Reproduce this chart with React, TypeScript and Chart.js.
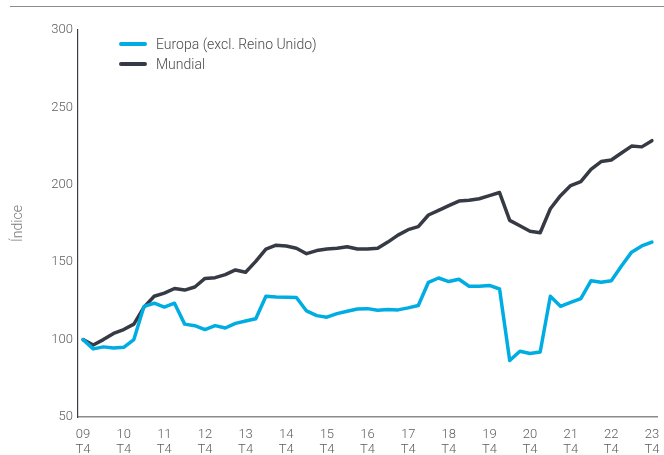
import React, { useEffect, useRef } from "react";
import { Chart, registerables } from "chart.js";

Chart.register(...registerables);

const years = ["09", "10", "11", "12", "13", "14", "15", "16", "17", "18", "19", "20", "21", "22", "23"];
const quarterNames = ["T1", "T2", "T3", "T4"];

// Quarterly categories from 09 T4 to 23 T4
const categories: string[] = ["09 T4"];
for (let y = 1; y < years.length; y++) {
  for (const q of quarterNames) categories.push(`${years[y]} ${q}`);
}

const europa = [
  100, 94, 95.3, 94.6, 95, 100, 121.5, 123.5, 121, 123.5,
  110, 109, 106.5, 109, 107.5, 110.5, 112, 113.5, 128, 127.5,
  127.3, 127.2, 118.5, 115.5, 114.5, 116.8, 118.3, 119.8, 120, 119,
  119.5, 119.2, 120.5, 122, 137, 139.8, 137.5, 139, 134.5, 134.5,
  135, 132.7, 86.5, 92.5, 91, 92, 128, 121.5, 124, 126.5,
  138, 137, 138, 147.5, 156.5, 160.5, 163,
];

const mundial = [
  100, 96.5, 100, 104, 106.5, 110, 121, 128, 130, 133,
  132, 134, 139.5, 140, 142, 145, 143.5, 150.5, 158.5, 161,
  160.5, 159, 155.5, 157.5, 158.5, 159, 160, 158.5, 158.5, 159,
  163, 167.5, 171, 173, 180.5, 183.5, 186.5, 189.5, 190, 191,
  193, 195, 177, 173.5, 170, 169, 184.5, 193, 199.5, 202,
  210, 215, 216, 220.5, 225, 224.5, 228.5,
];

const seriesNames = ["Europa (excl. Reino Unido)", "Mundial"];
const seriesColors = ["#00ade2", "#363a45"];
const yTitle = "Índice";
const yTicks = { min: 50, max: 300, step: 50 };

const FONT = "Roboto, 'Noto Sans', sans-serif";

export default function App() {
  const canvasRef = useRef<HTMLCanvasElement | null>(null);

  useEffect(() => {
    document.body.style.margin = "0";
    const canvas = canvasRef.current;
    if (!canvas) return;
    const chart = new Chart(canvas, {
      type: "line",
      data: {
        labels: categories,
        datasets: [
          {
            label: seriesNames[0],
            data: europa,
            borderColor: seriesColors[0],
            backgroundColor: seriesColors[0],
            borderWidth: 3.5,
            pointRadius: 0,
            tension: 0,
            borderJoinStyle: "round",
            borderCapStyle: "round",
          },
          {
            label: seriesNames[1],
            data: mundial,
            borderColor: seriesColors[1],
            backgroundColor: seriesColors[1],
            borderWidth: 3.5,
            pointRadius: 0,
            tension: 0,
            borderJoinStyle: "round",
            borderCapStyle: "round",
          },
        ],
      },
      options: {
        animation: false,
        responsive: false,
        maintainAspectRatio: false,
        layout: { padding: { left: 10, top: 30, right: 7, bottom: 0 } },
        plugins: {
          legend: { display: false },
          tooltip: { enabled: false },
        },
        scales: {
          x: {
            type: "category",
            offset: true,
            grid: { display: false, drawTicks: false, offset: true },
            border: { display: true, color: "#8a8a8a", width: 1.5 },
            ticks: {
              autoSkip: false,
              maxRotation: 0,
              minRotation: 0,
              padding: 11,
              color: "#5c5c5c",
              font: { family: FONT, size: 13, weight: "300", lineHeight: 1.1 },
              callback: (_v: any, i: number) => {
                const c = categories[i];
                const [yy, q] = c.split(" ");
                return q === "T4" ? [yy, q] : null;
              },
            },
            afterFit: (scale: any) => {
              scale.height = 38;
              scale.paddingLeft = 0;
              scale.paddingRight = 0;
            },
          },
          y: {
            min: yTicks.min,
            max: yTicks.max,
            grid: { display: false, drawTicks: false },
            border: { display: true, color: "#3a3d45", width: 1.2 },
            ticks: {
              stepSize: yTicks.step,
              padding: 5,
              color: "#5c5c5c",
              font: { family: FONT, size: 13, weight: "300" },
            },
            title: {
              display: true,
              text: yTitle,
              color: "#7a7a7a",
              font: { family: FONT, size: 14, weight: "300" },
              padding: { top: 0, bottom: 0 },
            },
            afterFit: (scale: any) => {
              scale.width = 68;
            },
          },
        },
      },
    });
    return () => chart.destroy();
  }, []);

  const legendText: React.CSSProperties = {
    position: "absolute",
    left: 156,
    fontFamily: FONT,
    fontWeight: 300,
    fontSize: 14,
    color: "#4a4a4a",
    lineHeight: "18px",
    whiteSpace: "nowrap",
  };
  const legendLine: React.CSSProperties = {
    position: "absolute",
    left: 119,
    width: 28,
    height: 4,
    borderRadius: 2,
  };

  return (
    <div style={{ position: "relative", width: 664, height: 455, background: "#fff", overflow: "hidden" }}>
      <canvas ref={canvasRef} width={664} height={455} style={{ position: "absolute", left: 0, top: 0 }} />
      <div style={{ position: "absolute", left: 10, top: 6, width: 654, borderTop: "1.5px solid #8c8c8c" }} />
      <div style={{ ...legendLine, top: 42, background: seriesColors[0] }} />
      <div style={{ ...legendText, top: 35 }}>{seriesNames[0]}</div>
      <div style={{ ...legendLine, top: 62, background: seriesColors[1] }} />
      <div style={{ ...legendText, top: 55 }}>{seriesNames[1]}</div>
    </div>
  );
}
